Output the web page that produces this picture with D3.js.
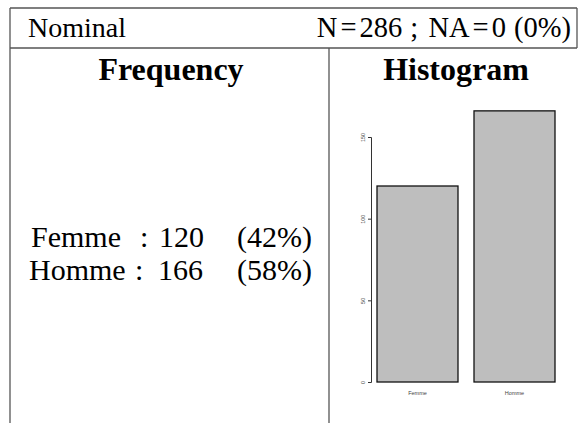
<!DOCTYPE html>
<html><head><meta charset="utf-8">
<script src="https://cdn.jsdelivr.net/npm/d3@7"></script>
<style>body{margin:0;background:#fff}svg{display:block}</style>
</head><body>
<script>
const categories = ["Femme", "Homme"];
const counts = [120, 166];
const percents = ["42%", "58%"];
const yTicks = [0, 50, 100, 150];
const headerLeft = "Nominal";
const nTotal = 286, nNA = 0, pctNA = "0%";
const colTitles = ["Frequency", "Histogram"];

const W = 578, H = 423;
const svg = d3.select("body").append("svg").attr("width", W).attr("height", H);
const serif = "'Liberation Serif','Times New Roman',serif";

// table lines
const line = (x1,y1,x2,y2)=>svg.append("line").attr("x1",x1).attr("y1",y1).attr("x2",x2).attr("y2",y2)
  .attr("stroke","#555").attr("stroke-width",1.3);
line(10,8,577,8);
line(10,48,577,48);
line(10,8,10,423);
line(577,8,577,48);
line(329,48,329,423);

const txt = (s, x, y, size, opts={}) => {
  const t = svg.append("text").attr("x",x).attr("y",y).attr("font-family",serif).attr("font-size",size).attr("fill","#000").text(s);
  if (opts.bold) t.attr("font-weight","bold");
  if (opts.anchor) t.attr("text-anchor",opts.anchor);
  return t;
};
txt(headerLeft, 28, 37, 28);
// right header with math-style spacing around "="
const hr = svg.append("text").attr("x",571).attr("y",37).attr("text-anchor","end")
  .attr("font-family",serif).attr("font-size",28.5);
[["N",0],["=",3],[String(nTotal),3],[" ;",1],[" NA",3],["=",3],[String(nNA),3],[` (${pctNA})`,1]]
  .forEach(([s,dx])=>hr.append("tspan").attr("dx",dx).text(s));

txt(colTitles[0], 171, 80, 32, {bold:true, anchor:"middle"});
txt(colTitles[1], 456, 80, 32, {bold:true, anchor:"middle"});

// frequency lines
const nameX = [31, 29], colonX = [140, 135], numX = [159, 158];
categories.forEach((c,i)=>{
  const yb = 247 + i*33;
  txt(c, nameX[i], yb, 30);
  txt(":", colonX[i], yb, 30);
  txt(String(counts[i]), numX[i], yb, 30);
  txt(`(${percents[i]})`, 237, yb, 30);
});

// histogram
const x = d3.scaleBand().domain(categories).range([377, 555]).paddingInner(0.165).paddingOuter(0);
const y = d3.scaleLinear().domain([0,150]).range([382,137]);
svg.append("g").selectAll("rect").data(categories).join("rect")
  .attr("x", d=>x(d)).attr("width", x.bandwidth())
  .attr("y", (d,i)=>y(counts[i])).attr("height", (d,i)=>y(0)-y(counts[i]))
  .attr("fill","#bebebe").attr("stroke","#111").attr("stroke-width",1.3);

const ax = svg.append("g").attr("transform","translate(371,0)")
  .call(d3.axisLeft(y).tickValues(yTicks).tickSize(3).tickPadding(3));
ax.select(".domain").attr("stroke","#333");
ax.selectAll(".tick line").attr("stroke","#333");
ax.selectAll(".tick text").attr("font-family","'Liberation Sans',Arial,sans-serif").attr("font-size",5.5).attr("fill","#444")
  .attr("text-anchor","middle").attr("dy",null).attr("x",0).attr("y",-6).attr("transform","rotate(-90)");
svg.selectAll(".xlab").data(categories).join("text").attr("class","xlab")
  .attr("x", d=>x(d)+x.bandwidth()/2).attr("y",395).attr("text-anchor","middle")
  .attr("font-family","'Liberation Sans',Arial,sans-serif").attr("font-size",5.5).attr("fill","#444").text(d=>d);
</script>
</body></html>
